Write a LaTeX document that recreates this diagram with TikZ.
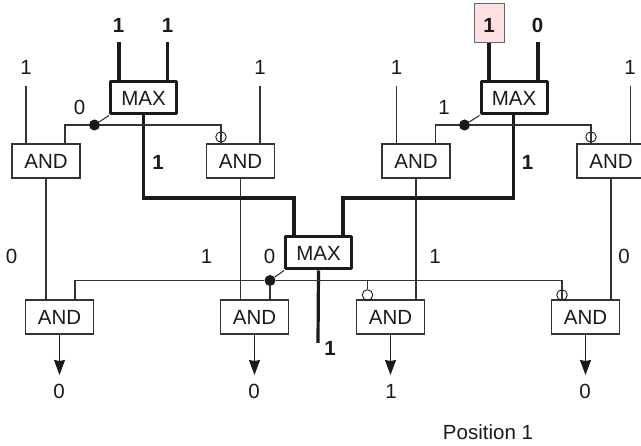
\documentclass[tikz,border=0pt]{standalone}
\usepackage{fontspec}
\setmainfont{Liberation Sans}
\usetikzlibrary{arrows.meta}
\definecolor{ink}{HTML}{1A1A1A}
\definecolor{thinink}{HTML}{333333}
\definecolor{pinkfill}{HTML}{FDE0E2}
\tikzset{
  x=1pt,y=-1pt,
  every node/.style={font=\fontsize{20.5}{24}\selectfont,text=ink,inner sep=0pt},
  andbox/.style={draw=thinink,line width=1.1pt,fill=white,minimum width=68pt,minimum height=34pt},
  maxbox/.style={draw=ink,line width=3pt,line join=round,fill=white,minimum width=66pt,minimum height=32pt},
  thinw/.style={draw=thinink,line width=1.1pt},
  thickw/.style={draw=ink,line width=3.2pt,line cap=butt,line join=miter},
  outw/.style={draw=ink,line width=1.1pt,-{Stealth[length=15pt,width=11pt,inset=1pt]}},
  bitl/.style={},
  boldl/.style={font=\fontsize{20.5}{24}\selectfont\bfseries},
  dotn/.style={circle,fill=ink,minimum size=11pt},
  invn/.style={circle,draw=ink,line width=0.9pt,minimum size=10.5pt},
  pinkbox/.style={draw=black!60,line width=1pt,fill=pinkfill,minimum width=30pt,minimum height=39pt},
}
\begin{document}
\begin{tikzpicture}
\useasboundingbox (0,0) rectangle (641,446);
% nodes
\node[andbox] (a1) at (46,161) {AND};
\node[andbox] (a2) at (240.5,161) {AND};
\node[andbox] (a3) at (416,161) {AND};
\node[andbox] (a4) at (611,161) {AND};
\node[andbox] (a5) at (59.5,317) {AND};
\node[andbox] (a6) at (254.5,317) {AND};
\node[andbox] (a7) at (390.5,317) {AND};
\node[andbox] (a8) at (585.5,317) {AND};
\node[maxbox] (m1) at (143.5,98) {MAX};
\node[maxbox] (m2) at (514,98) {MAX};
\node[maxbox] (m3) at (318.5,253) {MAX};
\node[pinkbox] (pb) at (489,23.5) {};
% free ends
\coordinate (i1) at (119,42);
\coordinate (i2) at (167.5,42);
\coordinate (i3) at (489,43);
\coordinate (i4) at (538,42);
\coordinate (s1) at (26,86);
\coordinate (s2) at (260,86);
\coordinate (s3) at (396.5,86);
\coordinate (s4) at (630.5,86);
\coordinate (o3) at (318,343);
\coordinate (o5) at (59.5,375);
\coordinate (o6) at (254.5,375);
\coordinate (o7) at (390.5,375);
\coordinate (o8) at (585.5,375);
\coordinate (c1) at (65,125);
\coordinate (c2) at (221,125);
\coordinate (c3) at (435.5,125);
\coordinate (c4) at (591,125);
\coordinate (c5) at (75,280.5);
\coordinate (c6) at (367.5,280.5);
\coordinate (c7) at (562,280.5);
\coordinate (b1) at (143.5,198);
\coordinate (b2) at (294,198);
\coordinate (b3) at (513.3,198);
\coordinate (b4) at (343,198);
% thin wires first
\draw[thinw] (s1) -- (s1 |- a1.north);
\draw[thinw] (s2) -- (s2 |- a2.north);
\draw[thinw] (s3) -- (s3 |- a3.north);
\draw[thinw] (s4) -- (s4 |- a4.north);
\draw[thinw] (a1.south) -- (a1.south |- a5.north);
\draw[thinw] (a2.south) -- (a2.south |- a6.north);
\draw[thinw] (a3.south) -- (a3.south |- a7.north);
\draw[thinw] (a4.south) -- (a4.south |- a8.north);
% thick wires
\draw[thickw] (i1) -- (i1 |- m1.north);
\draw[thickw] (i2) -- (i2 |- m1.north);
\draw[thickw] (i3) -- (i3 |- m2.north);
\draw[thickw] (i4) -- (i4 |- m2.north);
\draw[thickw] (m1.south) -- (b1) -- (b2) -- (b2 |- m3.north);
\draw[thickw] (b3 |- m2.south) -- (b3) -- (b4) -- (b4 |- m3.north);
\draw[thickw] (m3.south) -- (o3);
% control buses
\node[dotn] (d1) at (94.5,125) {};
\node[dotn] (d2) at (464.5,125) {};
\node[dotn] (d3) at (270,280.5) {};
\node[invn] (n1) at (221,137) {};
\node[invn] (n2) at (591,137) {};
\node[invn] (n3) at (367.5,295) {};
\node[invn] (n4) at (562,295) {};
\draw[thinw] (a1.north -| c1) -- (c1) -- (d1);
\draw[thinw] (d1) -- (c2) -- (n1.north);
\draw[thinw] (n1.north) -- (n1.south);
\draw[thinw] (a3.north -| c3) -- (c3) -- (d2);
\draw[thinw] (d2) -- (c4) -- (n2.north);
\draw[thinw] (n2.north) -- (n2.south);
\draw[thinw] (a5.north -| c5) -- (c5) -- (d3);
\draw[thinw] (d3) -- (a6.north -| d3);
\draw[thinw] (d3) -- (c6) -- (n3.north);
\draw[thinw] (c6) -- (c7) -- (n4.north);
\draw[thinw] (n4.north) -- (n4.south);
\draw[thinw] (d1) -- (m1.south west);
\draw[thinw] (d2) -- (m2.south west);
\draw[thinw] (d3) -- (m3.south west);
% outputs
\draw[outw] (a5.south) -- (o5);
\draw[outw] (a6.south) -- (o6);
\draw[outw] (a7.south) -- (o7);
\draw[outw] (a8.south) -- (o8);
% labels
\node[boldl] (t1) at (118.5,25) {1};
\node[boldl] (t2) at (167.5,25) {1};
\node[boldl] (t3) at (489,25) {1};
\node[boldl] (t4) at (537.5,25) {0};
\node[bitl] (t5) at (26,67) {1};
\node[bitl] (t6) at (260,67) {1};
\node[bitl] (t7) at (396.5,67) {1};
\node[bitl] (t8) at (630,67) {1};
\node[bitl] (t9) at (79.5,107.5) {0};
\node[bitl] (t10) at (444,107.5) {1};
\node[boldl] (t11) at (158,162.5) {1};
\node[boldl] (t12) at (527.5,162.5) {1};
\node[bitl] (t13) at (11.5,256) {0};
\node[bitl] (t14) at (206.5,256) {1};
\node[bitl] (t15) at (269.5,256) {0};
\node[bitl] (t16) at (435,256) {1};
\node[bitl] (t17) at (624,256) {0};
\node[boldl] (t18) at (330,348) {1};
\node[bitl] (t19) at (59,391.5) {0};
\node[bitl] (t20) at (254,391.5) {0};
\node[bitl] (t21) at (391,391.5) {1};
\node[bitl] (t22) at (585,391.5) {0};
\node[bitl] (t23) at (488,432) {Position 1};
\end{tikzpicture}
\end{document}
